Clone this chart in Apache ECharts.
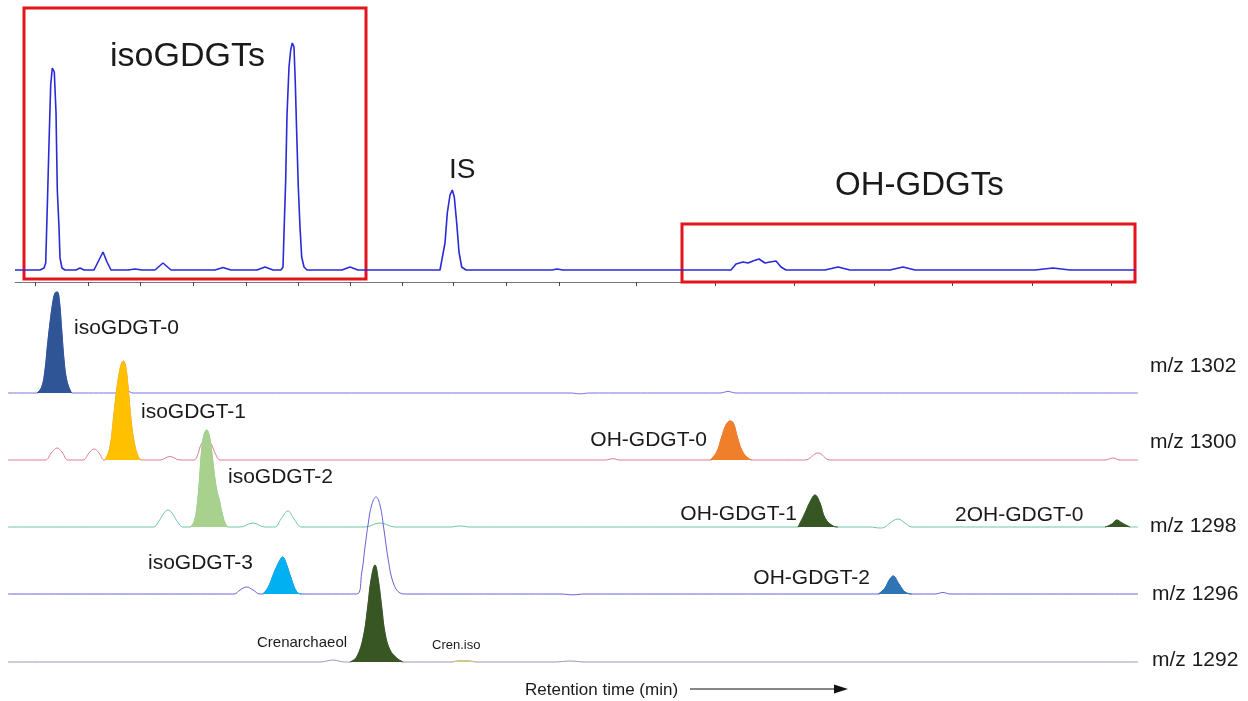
<!DOCTYPE html>
<html><head><meta charset="utf-8">
<script src="https://cdn.jsdelivr.net/npm/echarts@6/dist/echarts.min.js"></script>
<style>html,body{margin:0;padding:0;background:#fff}#c{width:1248px;height:701px}</style>
</head><body><div id="c"></div>
<script>
// ---------------- DATA (retention time, intensity) ----------------
const regionNames = ['isoGDGTs', 'IS', 'OH-GDGTs'];
const mzLabels = ['m/z 1302', 'm/z 1300', 'm/z 1298', 'm/z 1296', 'm/z 1292'];
const tickTimes = [3.5, 8.8, 14.0, 19.3, 24.6, 29.8, 35.0, 40.2, 45.3, 50.6, 55.9, 63.6, 71.5, 79.4, 87.4, 95.2, 103.2, 111.1];

const tic = [[1.5,0],[4.0,0],[4.4,2],[4.57,7],[4.77,78],[4.93,137],[5.07,185],[5.23,202],[5.43,198],[5.6,158],[5.73,80],[5.9,43],[6.0,12],[6.2,2],[6.5,0],
  [7.6,0],[8.0,2],[8.4,0],[9.4,0],[9.8,8],[10.3,18],[10.7,8],[11.1,0],[12.8,0],[13.5,1],[14.2,0],[15.5,0],[16.3,7],[17.1,0],[21.5,0],[22.3,2.5],[23.1,0],
  [25.7,0],[26.5,3],[27.3,0],[28.1,0],[28.3,3],[28.4,37],[28.57,90],[28.7,155],[28.9,203],[29.07,220],[29.23,227],[29.4,223],[29.53,187],[29.67,137],
  [29.83,83],[30.0,43],[30.17,13],[30.4,3],[30.7,0],[34.2,0],[35.0,3],[35.8,0],[44.0,0],[44.1,1],[44.5,27],[44.73,57],[45.0,75],[45.23,80],[45.43,73],
  [45.67,47],[45.9,18],[46.17,3],[46.6,0],[55.2,0],[55.7,1],[56.3,0],[73.1,0],[73.6,6],[74.3,8],[74.8,7],[75.3,9],[75.9,11],[76.5,7],[77.0,8],[77.6,9],
  [78.1,3],[78.6,0],[82.5,0],[83.8,3],[85.0,0],[89.0,0],[90.3,3],[91.5,0],[103.5,0],[105.3,2],[107.0,0],[113.5,0]];

const mz1302 = [[0.8,0],[3.7,0],[4.17,6],[4.5,23],[4.73,46],[5.0,70],[5.27,90],[5.5,100],[5.73,101],[5.93,93],[6.17,63],[6.43,30],[6.67,13],[7.0,3],[7.2,0],
  [11.5,0],[12.0,2],[12.4,3],[12.9,1.5],[13.3,0],[57.0,0],[58.0,-0.8],[59.0,0],[72.0,0],[72.8,1.5],[73.6,0],[113.8,0]];

const mz1300 = [[0.8,0],[4.5,0],[5.2,8],[5.7,12],[6.2,8],[6.8,0],[8.3,0],[8.9,7],[9.4,11],[9.9,7],[10.4,0],[10.5,0],[11.0,13],[11.33,40],[11.67,70],
  [11.93,87],[12.17,97],[12.33,99],[12.57,93],[12.83,70],[13.1,40],[13.43,17],[13.83,3],[14.17,0],[16.0,0],[17.0,3.5],[18.0,0],[19.4,0],[19.8,6],[20.0,13],
  [20.35,19],[20.7,21],[21.0,18],[21.3,12],[21.6,5],[22.0,0],[60.5,0],[61.3,1.3],[62.0,0],[71.0,0],[71.67,8],[72.17,23],[72.6,35],[73.0,39],[73.33,37],
  [73.73,23],[74.17,10],[74.67,3],[75.17,0],[80.5,0],[81.8,7],[83.0,0],[110.5,0],[111.3,2],[112.0,0],[113.8,0]];

const mz1298 = [[0.8,0],[15.3,0],[15.9,6],[16.4,14],[16.8,17],[17.2,14],[17.7,6],[18.3,0],[19.0,0],[19.4,5],[19.7,20],[19.95,47],[20.17,77],[20.4,92],
  [20.67,97],[20.9,92],[21.15,77],[21.4,55],[21.65,38],[21.9,28],[22.2,14],[22.5,4],[22.8,0],[24.0,0],[25.3,4],[26.5,0],[27.5,0],[28.1,8],[28.8,16],
  [29.4,8],[30.2,0],[36.5,0],[38.0,4],[39.5,0],[45.0,0],[46.0,1],[47.0,0],[79.8,0],[80.5,14],[81.0,25],[81.5,32],[82.0,24],[82.5,9],[83.3,1],[83.8,0],
  [87.0,0],[88.0,-1],[88.5,0],[89.0,4],[89.8,8],[90.5,4],[91.2,0],[110.5,0],[111.2,3],[111.67,7],[112.2,4],[113.0,0],[113.8,0]];

const mz1296 = [[0.8,0],[23.4,0],[24.0,4],[24.67,7],[25.3,4],[26.0,0],[26.27,0],[26.83,7],[27.4,21],[27.9,32],[28.27,37],[28.6,31],[29.07,17],[29.67,2],
  [30.17,0],[35.67,0],[36.17,21],[36.5,47],[36.83,71],[37.17,89],[37.6,97],[38.0,89],[38.4,64],[38.83,34],[39.33,11],[40.0,1],[40.67,0],[56.0,0],
  [57.3,-0.8],[58.5,0],[87.83,0],[88.5,6],[88.93,14],[89.33,18],[89.83,11],[90.5,2],[91.17,0],[93.5,0],[94.3,1.5],[95.0,0],[113.8,0]];

const mz1292 = [[0.8,0],[32.0,0],[33.3,2],[34.5,0],[35.0,0],[35.67,5],[36.33,25],[36.77,55],[37.1,82],[37.5,97],[37.83,82],[38.17,55],[38.5,29],
  [39.0,12],[39.67,4],[40.33,0],[45.0,0],[46.3,1.5],[47.8,0],[55.5,0],[57.0,1],[58.5,0],[113.8,0]];

const peakNames = ['isoGDGT-0', 'isoGDGT-1', 'OH-GDGT-0', 'isoGDGT-2', 'OH-GDGT-1', '2OH-GDGT-0', 'isoGDGT-3', 'OH-GDGT-2', 'Crenarchaeol', 'Cren.iso'];
const peakTrace = [0, 1, 1, 2, 2, 2, 3, 3, 4, 4];
const peakStart = [3.7, 10.5, 71.0, 19.0, 79.8, 110.5, 26.27, 87.83, 35.0, 45.0];
const peakEnd   = [7.2, 14.17, 75.17, 22.8, 83.8, 113.0, 30.17, 91.17, 40.33, 47.8];

// ---------------- LAYOUT / STYLE ----------------
const traces = [mz1302, mz1300, mz1298, mz1296, mz1292];
const FONT = '"Liberation Sans", Arial, sans-serif';
const baselines = [393, 460, 527, 594, 662];
const traceColors = ['#7474e2', '#e27c8e', '#6cc8a4', '#6a62d4', '#9898b6'];
const peakColors = ['#2f5597', '#ffc000', '#f07f2c', '#a9d18e', '#375623', '#375623', '#00b0f0', '#2e75b6', '#375623', '#cfc88a'];
const boxes = [[{xAxis: 2.4, yAxis: 262}, {xAxis: 36.6, yAxis: -9}], [{xAxis: 68.2, yAxis: 46}, {xAxis: 113.7, yAxis: -16}]];
const regionPos = [[110, 57, 34], [449, 170, 28], [835, 186, 33]];
const peakLabelPos = [[74, 328, 21, 'left'], [141, 412, 21, 'left'], [707, 440, 21, 'right'], [228, 477, 21, 'left'], [797, 514, 21, 'right'],
  [955, 515, 21, 'left'], [253, 563, 21, 'right'], [870, 578, 21, 'right'], [257, 643, 15, 'left'], [432, 645, 13, 'left']];
const mzPos = [[1150, 366], [1150, 442], [1150, 526], [1152, 594], [1152, 660]];

const grids = [{left: 15, top: 2, width: 1120, height: 280}];
const xAxes = [{gridIndex: 0, type: 'value', min: 1.5, max: 113.5,
  axisLine: {show: true, onZero: false, lineStyle: {color: '#777', width: 1}},
  axisTick: {show: true, customValues: tickTimes, length: 4, lineStyle: {color: '#444', width: 1}},
  axisLabel: {show: false}, splitLine: {show: false}}];
const yAxes = [{gridIndex: 0, type: 'value', min: -12, max: 268, show: false}];
baselines.forEach((b, i) => {
  grids.push({left: 8, top: b - 110, width: 1130, height: 110});
  xAxes.push({gridIndex: i + 1, type: 'value', min: 0.8, max: 113.8, show: false});
  yAxes.push({gridIndex: i + 1, type: 'value', min: 0, max: 110, show: false});
});

const series = [{
  type: 'line', xAxisIndex: 0, yAxisIndex: 0, data: tic, symbol: 'none', clip: false, z: 3,
  lineStyle: {color: '#2a2ad8', width: 1.6},
  markArea: {silent: true, label: {show: false}, itemStyle: {color: 'rgba(0,0,0,0)', borderColor: '#e3141b', borderWidth: 3}, data: boxes}
}];
traces.forEach((tr, i) => {
  series.push({type: 'line', xAxisIndex: i + 1, yAxisIndex: i + 1, data: tr, symbol: 'none', smooth: 0.4, clip: false, z: 2,
    lineStyle: {color: traceColors[i], width: 1}});
});
peakNames.forEach((n, k) => {
  const tr = traces[peakTrace[k]];
  const d = tr.filter(p => p[0] >= peakStart[k] && p[0] <= peakEnd[k]);
  series.push({type: 'line', name: n, xAxisIndex: peakTrace[k] + 1, yAxisIndex: peakTrace[k] + 1, data: d, symbol: 'none', smooth: 0.4, clip: false, z: 4,
    lineStyle: {color: peakColors[k], width: 1}, areaStyle: {color: peakColors[k], opacity: 1}});
});

function txt(text, x, y, size, align) {
  return {type: 'text', x: x, y: y, silent: true, z: 10,
    style: {text: text, font: size + 'px ' + FONT, fill: '#1a1a1a', textAlign: align, textVerticalAlign: 'middle', align: align, verticalAlign: 'middle'}};
}
const graphics = [];
regionNames.forEach((n, i) => graphics.push(txt(n, regionPos[i][0], regionPos[i][1], regionPos[i][2], 'left')));
peakNames.forEach((n, i) => graphics.push(txt(n, peakLabelPos[i][0], peakLabelPos[i][1], peakLabelPos[i][2], peakLabelPos[i][3])));
mzLabels.forEach((n, i) => graphics.push(txt(n, mzPos[i][0], mzPos[i][1], 21, 'left')));
graphics.push(txt('Retention time (min)', 525, 690, 17, 'left'));
graphics.push({type: 'line', silent: true, shape: {x1: 690, y1: 689, x2: 838, y2: 689}, style: {stroke: '#111', lineWidth: 1.2}});
graphics.push({type: 'polygon', silent: true, shape: {points: [[834, 684.5], [848, 689], [834, 693.5]]}, style: {fill: '#111'}});

const chart = echarts.init(document.getElementById('c'), null, {renderer: 'canvas'});
chart.setOption({animation: false, backgroundColor: '#fff', grid: grids, xAxis: xAxes, yAxis: yAxes, series: series, graphic: graphics});
</script></body></html>
